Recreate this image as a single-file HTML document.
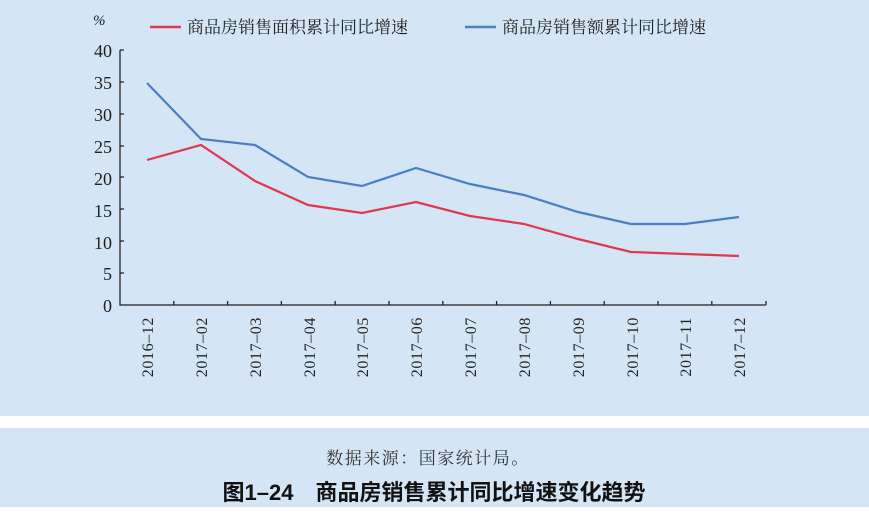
<!DOCTYPE html>
<html><head><meta charset="utf-8"><style>
body{margin:0;width:869px;height:507px;overflow:hidden;background:#fff}
</style></head><body>
<svg width="869" height="507" xmlns="http://www.w3.org/2000/svg">
<rect x="0" y="0" width="869" height="416" fill="#d4e5f5"/>
<rect x="0" y="428" width="869" height="79" fill="#d4e5f5"/>
<g font-family="Liberation Serif, serif" font-size="18" fill="#222" text-anchor="end">
<text x="112" y="57">40</text><text x="112" y="89">35</text><text x="112" y="121">30</text>
<text x="112" y="153">25</text><text x="112" y="185">20</text><text x="112" y="217">15</text>
<text x="112" y="249">10</text><text x="112" y="280">5</text><text x="112" y="312">0</text>
</g>
<text x="93" y="25" font-family="Liberation Serif, serif" font-style="italic" font-size="15" fill="#222">%</text>
<g stroke="#222" stroke-width="1.3" fill="none">
<path d="M120,50 V305 H766"/>
<path d="M120,50 h4 M120,82 h4 M120,114 h4 M120,146 h4 M120,177 h4 M120,209 h4 M120,241 h4 M120,273 h4"/>
<path d="M173.8,305 v-4 M227.6,305 v-4 M281.4,305 v-4 M335.2,305 v-4 M389,305 v-4 M442.8,305 v-4 M496.6,305 v-4 M550.4,305 v-4 M604.2,305 v-4 M658,305 v-4 M711.8,305 v-4 M766,305 v-4"/>
</g>
<g font-family="Liberation Serif, serif" font-size="16" fill="#222" text-anchor="end" letter-spacing="0.6">
<text transform="translate(153,317) rotate(-90)">2016–12</text>
<text transform="translate(207,317) rotate(-90)">2017–02</text>
<text transform="translate(261,317) rotate(-90)">2017–03</text>
<text transform="translate(315,317) rotate(-90)">2017–04</text>
<text transform="translate(368,317) rotate(-90)">2017–05</text>
<text transform="translate(422,317) rotate(-90)">2017–06</text>
<text transform="translate(476,317) rotate(-90)">2017–07</text>
<text transform="translate(530,317) rotate(-90)">2017–08</text>
<text transform="translate(584,317) rotate(-90)">2017–09</text>
<text transform="translate(638,317) rotate(-90)">2017–10</text>
<text transform="translate(691,317) rotate(-90)">2017–11</text>
<text transform="translate(745,317) rotate(-90)">2017–12</text>
</g>
<polyline fill="none" stroke="#4a7fc1" stroke-width="2.2" points="147,83 201,139 255,145 308,177 362,186 416,168 470,184 524,195 578,212 631,224 685,224 739,217"/>
<polyline fill="none" stroke="#e0384f" stroke-width="2.2" points="147,160 201,145 255,181 308,205 362,213 416,202 470,216 524,224 578,239 631,252 685,254 739,256"/>
<line x1="150" y1="27" x2="181" y2="27" stroke="#e0384f" stroke-width="2.5"/>
<line x1="465" y1="27" x2="496" y2="27" stroke="#4a7fc1" stroke-width="2.5"/>
<g font-family="Liberation Serif, 'Noto Serif CJK SC', serif" font-size="17" fill="#222">
<text x="187" y="33">商品房销售面积累计同比增速</text>
<text x="502" y="33">商品房销售额累计同比增速</text>
</g>
<text x="428" y="464" text-anchor="middle" font-family="'Noto Serif CJK SC', serif" font-size="17" letter-spacing="1.5" fill="#333">数据来源：国家统计局。</text>
<text x="434" y="500" text-anchor="middle" font-family="'Liberation Sans', 'Noto Sans CJK SC', sans-serif" font-weight="bold" font-size="22" fill="#111">图1–24　商品房销售累计同比增速变化趋势</text>
</svg>
</body></html>
